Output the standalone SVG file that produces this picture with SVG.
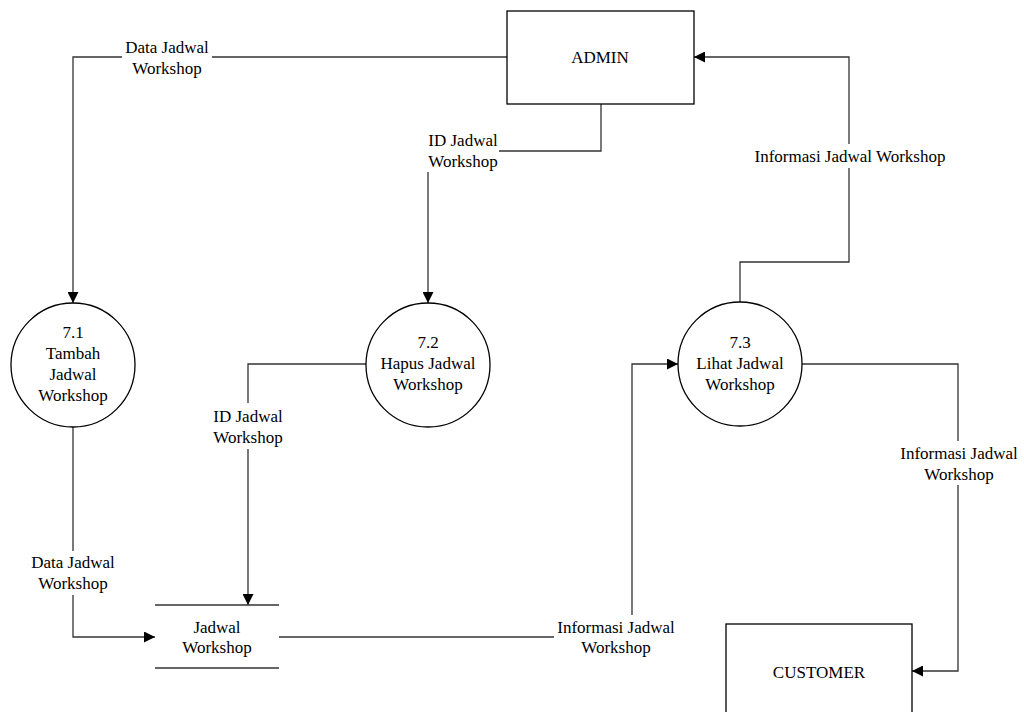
<svg xmlns="http://www.w3.org/2000/svg" width="1024" height="712" viewBox="0 0 1024 712" font-family="'Liberation Serif', 'Times New Roman', Times, serif" font-size="17">
<style>
text{font-family:'Liberation Serif','Times New Roman',Times,serif;font-size:17px;fill:#000;text-anchor:middle}
.ent{fill:#fff;stroke:#000;stroke-width:1.3}
.proc{fill:#fff;stroke:#000;stroke-width:1.3}
.store{stroke:#333;stroke-width:1.3;fill:none}
.flow{fill:none;stroke:#333;stroke-width:1.3}
.bg{fill:#fff;stroke:none}
</style>
<defs>
<marker id="arr" viewBox="0 0 10 10" refX="10" refY="5" markerUnits="userSpaceOnUse" markerWidth="11" markerHeight="11" orient="auto">
<path d="M0,0 L10,5 L0,10 z" fill="#000"/>
</marker>
</defs>
<rect width="1024" height="712" fill="#fff"/>
<g id="connectors">
<path class="flow" d="M507,57 H73 V303" marker-end="url(#arr)"/>
<path class="flow" d="M601,104 V151 H428 V303" marker-end="url(#arr)"/>
<path class="flow" d="M366,364 H248 V605" marker-end="url(#arr)"/>
<path class="flow" d="M73,427 V637 H155" marker-end="url(#arr)"/>
<path class="flow" d="M279,637 H632 V364 H678" marker-end="url(#arr)"/>
<path class="flow" d="M740,302 V262 H849 V57 H694" marker-end="url(#arr)"/>
<path class="flow" d="M802,364 H958 V671 H912" marker-end="url(#arr)"/>
<g id="labels">
<rect class="bg" x="122" y="39" width="90" height="40"/>
<text x="167" y="53">Data Jadwal</text>
<text x="167" y="74">Workshop</text>
<rect class="bg" x="426" y="133" width="73" height="39"/>
<text x="463" y="146">ID Jadwal</text>
<text x="463" y="167">Workshop</text>
<rect class="bg" x="751" y="144" width="199" height="24"/>
<text x="850" y="162">Informasi Jadwal Workshop</text>
<rect class="bg" x="211" y="403" width="74" height="46"/>
<text x="248" y="422">ID Jadwal</text>
<text x="248" y="443">Workshop</text>
<rect class="bg" x="30" y="551" width="86" height="44"/>
<text x="73" y="568">Data Jadwal</text>
<text x="73" y="589">Workshop</text>
<rect class="bg" x="554" y="615" width="124" height="44"/>
<text x="616" y="633">Informasi Jadwal</text>
<text x="616" y="653">Workshop</text>
<rect class="bg" x="898" y="441" width="122" height="44"/>
<text x="959" y="459">Informasi Jadwal</text>
<text x="959" y="480">Workshop</text>
</g>
</g>
<g id="admin">
<rect class="ent" x="507" y="11" width="187" height="93"/>
<text x="600" y="63">ADMIN</text>
</g>
<g id="customer">
<rect class="ent" x="726" y="624" width="186" height="100"/>
<text x="819" y="678">CUSTOMER</text>
</g>
<g id="p71">
<circle class="proc" cx="73" cy="365" r="62"/>
<text x="73" y="338">7.1</text>
<text x="73" y="359">Tambah</text>
<text x="73" y="380">Jadwal</text>
<text x="73" y="401">Workshop</text>
</g>
<g id="p72">
<circle class="proc" cx="428" cy="365" r="62"/>
<text x="428" y="348">7.2</text>
<text x="428" y="369">Hapus Jadwal</text>
<text x="428" y="390">Workshop</text>
</g>
<g id="p73">
<circle class="proc" cx="740" cy="364" r="62"/>
<text x="740" y="348">7.3</text>
<text x="740" y="369">Lihat Jadwal</text>
<text x="740" y="390">Workshop</text>
</g>
<g id="store">
<line class="store" x1="155" y1="605" x2="279" y2="605"/>
<line class="store" x1="155" y1="668" x2="279" y2="668"/>
<text x="217" y="633">Jadwal</text>
<text x="217" y="653">Workshop</text>
</g>
</svg>
